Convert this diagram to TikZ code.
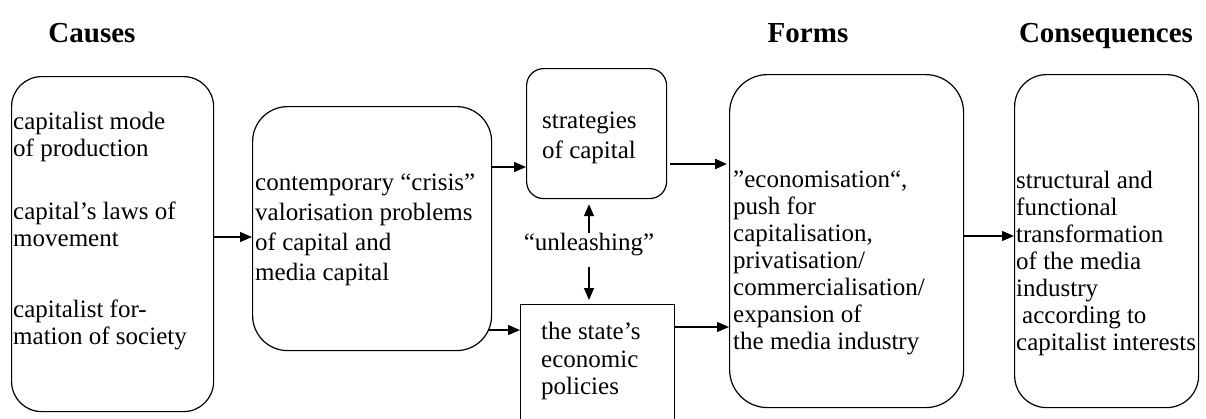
\documentclass[tikz,border=0pt]{standalone}
\usepackage{fontspec}
\setmainfont{Liberation Serif}
\usetikzlibrary{arrows.meta}
\begin{document}
\begin{tikzpicture}[x=1pt,y=-1pt,
  box/.style={draw, line width=1.2pt, rounded corners=#1, inner sep=0pt, anchor=north west},
  sqbox/.style={draw, line width=1.2pt, inner sep=0pt, anchor=north west},
  txt/.style={font=\fontsize{25}{27}\selectfont, align=left, inner sep=0pt, anchor=north west},
  txtw/.style={font=\fontsize{25}{30}\selectfont, align=left, inner sep=0pt, anchor=north west},
  head/.style={font=\fontsize{29}{30}\selectfont\bfseries, inner sep=0pt, anchor=base},
  arr/.style={line width=1.2pt, -{Triangle[length=12pt,width=10pt]}},
  thickarr/.style={line width=2.2pt, -{Triangle[length=12pt,width=10pt]}}]
\useasboundingbox (0,0) rectangle (1206,418);
\clip (0,0) rectangle (1206,418);
% headings
\node[head] (hc) at (92,42) {Causes};
\node[head] (hf) at (808,42) {Forms};
\node[head] (hq) at (1106,42) {Consequences};
% boxes
\node[box=30pt, minimum width=202pt, minimum height=335pt] (b1) at (11,76) {};
\node[box=35pt, minimum width=239pt, minimum height=244pt] (b2) at (252,106) {};
\node[box=17pt, minimum width=140pt, minimum height=130pt] (st) at (526,68) {};
\node[sqbox, minimum width=154pt, minimum height=140pt] (sp) at (520,304) {};
\node[box=38pt, minimum width=234pt, minimum height=333pt] (fm) at (729,74) {};
\node[box=32pt, minimum width=184pt, minimum height=333pt] (cq) at (1014,74) {};
% texts
\node[txt] (t1a) at (13,112) {capitalist mode\\of production};
\node[txt] (t1b) at (13,202) {capital’s laws of\\movement};
\node[txt] (t1c) at (13,300) {capitalist for-\\mation of society};
\node[txtw] (t2) at (255,174) {contemporary “crisis”\\valorisation problems\\of capital and\\media capital};
\node[txtw] (t3) at (542,112) {strategies\\of capital};
\node[font=\fontsize{25}{27}\selectfont, inner sep=0pt] (un) at (589,245) {“unleashing”};
\node[font=\fontsize{25}{27.5}\selectfont, align=left, inner sep=0pt, anchor=north west] (t4) at (541,322) {the state’s\\economic\\policies};
\node[txt] (t5) at (733,171) {”economisation“,\\push for\\capitalisation,\\privatisation/\\commercialisation/\\expansion of\\the media industry};
\node[txt] (t6) at (1016,171) {structural and\\functional\\transformation\\of the media\\industry\\\hspace{6pt}according to\\capitalist interests};
% arrows
\draw[arr] (b1.east |- 0,237) -- (b2.west |- 0,237);
\draw[arr] (b2.east |- 0,167) -- (st.west |- 0,167);
\draw[arr] ([xshift=-3pt]b2.east |- 0,330) -- (sp.west |- 0,330);
\draw[thickarr] ([xshift=3pt]st.east |- 0,164) -- ([xshift=-2pt]fm.west |- 0,164);
\draw[arr] (sp.east |- 0,327) -- (fm.west |- 0,327);
\draw[arr] (fm.east |- 0,236) -- (cq.west |- 0,236);
\draw[arr, shorten >=5pt] (un.north) -- (un.north |- st.south);
\draw[arr, shorten <=10pt, shorten >=4pt] (un.south) -- (un.south |- sp.north);
\end{tikzpicture}
\end{document}
